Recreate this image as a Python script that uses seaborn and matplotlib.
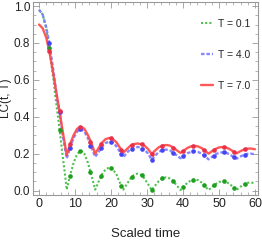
import numpy as np
import pandas as pd
import matplotlib
matplotlib.use("Agg")
import matplotlib.pyplot as plt
from matplotlib.ticker import MultipleLocator
import seaborn as sns

# curve samples (scaled time, LC value)
t_line = [0, 1, 2, 2.86, 4, 5, 5.71, 6.5, 7.2, 7.7,
          8.6, 9.6, 10.6, 11.6, 12.6, 13.6, 14.6, 15.6,
          16.6, 17.6, 18.5, 19.5, 20.5, 21.5, 22.4, 23.4,
          24.4, 25.4, 26.4, 27.35, 28.3, 29.3, 30.3, 31.3,
          32.3, 33.3, 34.3, 35.3, 36.3, 37.3, 38.3, 39.3,
          40.3, 41.3, 42.3, 43.2, 44.2, 45.2, 46.1, 47.1,
          48.1, 49.1, 50.0, 51.0, 52.0, 52.9, 53.9, 54.9,
          55.9, 56.9, 57.9, 58.8, 60]
green_line = [0.98, 0.955, 0.88, 0.775, 0.6, 0.44, 0.33, 0.2, 0.09, 0.005,
              0.08, 0.15, 0.198, 0.216, 0.2, 0.15, 0.08, 0.005,
              0.05, 0.092, 0.115, 0.125, 0.115, 0.088, 0.045, 0.005,
              0.035, 0.065, 0.085, 0.092, 0.085, 0.065, 0.035, 0.003,
              0.028, 0.052, 0.066, 0.072, 0.066, 0.05, 0.027, 0.003,
              0.024, 0.044, 0.056, 0.06, 0.056, 0.043, 0.023, 0.003,
              0.02, 0.036, 0.047, 0.05, 0.047, 0.036, 0.02, 0.004,
              0.02, 0.034, 0.042, 0.044, 0.04]
blue_line = [0.98, 0.955, 0.885, 0.80, 0.65, 0.50, 0.425, 0.31, 0.23, 0.175,
             0.23, 0.285, 0.32, 0.333, 0.32, 0.283, 0.232, 0.183,
             0.21, 0.24, 0.258, 0.265, 0.258, 0.24, 0.212, 0.18,
             0.205, 0.225, 0.234, 0.236, 0.234, 0.222, 0.2, 0.167,
             0.19, 0.21, 0.22, 0.222, 0.218, 0.205, 0.19, 0.175,
             0.19, 0.203, 0.21, 0.212, 0.209, 0.2, 0.187, 0.169,
             0.183, 0.197, 0.205, 0.207, 0.205, 0.196, 0.184, 0.173,
             0.184, 0.194, 0.199, 0.2, 0.197]
red_line = [0.90, 0.88, 0.83, 0.755, 0.63, 0.51, 0.43, 0.33, 0.25, 0.192,
            0.25, 0.30, 0.335, 0.346, 0.335, 0.30, 0.255, 0.20,
            0.232, 0.262, 0.279, 0.285, 0.279, 0.262, 0.235, 0.205,
            0.225, 0.243, 0.252, 0.255, 0.252, 0.243, 0.225, 0.198,
            0.218, 0.235, 0.244, 0.247, 0.244, 0.233, 0.218, 0.204,
            0.218, 0.232, 0.24, 0.242, 0.239, 0.23, 0.215, 0.2,
            0.214, 0.226, 0.234, 0.236, 0.233, 0.225, 0.213, 0.202,
            0.213, 0.222, 0.227, 0.228, 0.224]

# mesh markers
t_mark = [2.86, 5.71, 8.57, 11.43, 14.29, 17.14, 20.0, 22.86, 25.71, 28.57,
          31.43, 34.29, 37.14, 40.0, 42.86, 45.71, 48.57, 51.43, 54.29, 57.14]
green_mark = [0.775, 0.33, 0.08, 0.215, 0.098, 0.078, 0.123, 0.027, 0.074, 0.084,
              0.005, 0.066, 0.052, 0.017, 0.06, 0.032, 0.028, 0.05, 0.012, 0.035]
blue_mark = [0.80, 0.425, 0.23, 0.333, 0.24, 0.23, 0.264, 0.198, 0.226, 0.228,
             0.167, 0.219, 0.203, 0.185, 0.212, 0.192, 0.19, 0.207, 0.18, 0.194]
red_mark = [0.755, 0.43, 0.25, 0.346, 0.265, 0.25, 0.284, 0.222, 0.248, 0.25,
            0.2, 0.244, 0.232, 0.213, 0.242, 0.222, 0.22, 0.236, 0.21, 0.223]

labels = ["T = 0.1", "T = 4.0", "T = 7.0"]
line_colors = ["#3cba3c", "#7a7aff", "#ff4646"]
mark_colors = ["#1f9f1f", "#4646f0", "#e8304a"]

sns.set_style("ticks")
plt.rcParams["font.family"] = ["Liberation Sans Narrow", "Liberation Sans", "DejaVu Sans"]

fig = plt.figure(figsize=(2.62, 2.40), dpi=100)
ax = fig.add_axes([33 / 262, 1 - 195 / 240, 225 / 262, 193 / 240])

df = pd.DataFrame({"t": t_line, "green": green_line, "blue": blue_line, "red": red_line})
dm = pd.DataFrame({"t": t_mark, "green": green_mark, "blue": blue_mark, "red": red_mark})

styles = [(0, (1, 1)), (0, (1.5, 0.8)), "-"]
widths = [1.5, 1.7, 1.7]
for col, lab, lc, mc, ls, lw in zip(["green", "blue", "red"], labels, line_colors,
                                     mark_colors, styles, widths):
    sns.lineplot(data=df, x="t", y=col, ax=ax, color=lc, linestyle=ls, lw=lw,
                 alpha=0.9, label=lab)
    sns.scatterplot(data=dm, x="t", y=col, ax=ax, color=mc, s=11, marker="o",
                    linewidth=0, legend=False, zorder=5)

ax.set_xlim(-1.67, 60.83)
ax.set_ylim(-0.024, 1.022)
ax.xaxis.set_major_locator(MultipleLocator(10))
ax.xaxis.set_minor_locator(MultipleLocator(2))
ax.yaxis.set_major_locator(MultipleLocator(0.2))
ax.yaxis.set_minor_locator(MultipleLocator(0.05))
ax.yaxis.set_major_formatter(matplotlib.ticker.FormatStrFormatter("%.1f"))
ax.tick_params(which="both", direction="in", top=True, right=True,
               color="#999999", labelcolor="#222222")
ax.tick_params(axis="x", labelsize=9, pad=2.5)
ax.tick_params(axis="y", labelsize=8.5, pad=2)
ax.tick_params(which="major", length=4, width=0.6)
ax.tick_params(which="minor", length=2, width=0.5)
for s in ax.spines.values():
    s.set_color("#999999")
    s.set_linewidth(0.8)

ax.set_xlabel("Scaled time", fontsize=9.5, color="#222222")
ax.xaxis.set_label_coords(0.5, -0.17)
ax.set_ylabel("LC(t, T)", fontsize=8.5, color="#222222")
ax.yaxis.set_label_coords(-0.094, 0.5)

leg = ax.legend(loc="upper right", bbox_to_anchor=(1.0, 0.95), frameon=False,
                fontsize=7.5, handlelength=1.2, handletextpad=0.5,
                labelspacing=2.0, borderaxespad=0.3)

fig.savefig("out.png", dpi=100)
